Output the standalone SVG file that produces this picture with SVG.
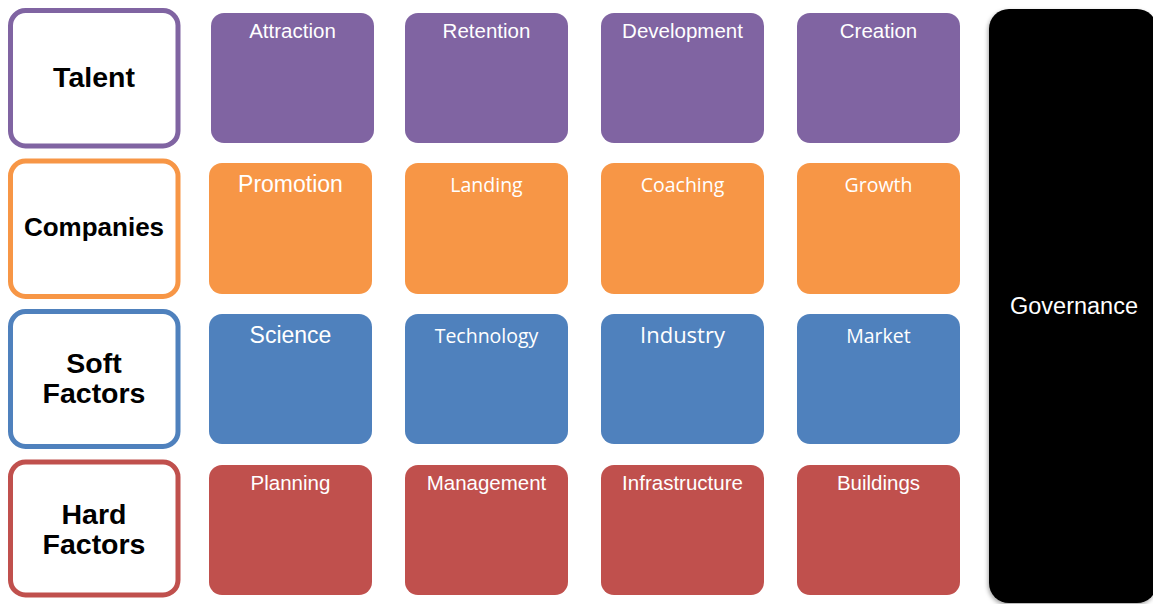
<svg xmlns="http://www.w3.org/2000/svg" width="1153" height="604" viewBox="0 0 1153 604">
<defs>
<style>
.hdr{fill:#fff;stroke-width:5}
.lbl{font-family:"Liberation Sans",Arial,sans-serif;font-weight:bold;fill:#000;text-anchor:middle}
.t{font-family:"Liberation Sans",Arial,sans-serif;fill:#fff;text-anchor:middle;font-size:20.5px}
.big{font-size:23px}
.c{font-family:"Open Sans","Noto Sans",sans-serif;fill:#fff;text-anchor:middle;font-size:19.5px}
.cbig{font-size:22px}
.pu{fill:#8064A2}.or{fill:#F79646}.bl{fill:#4F81BD}.rd{fill:#C0504D}
</style>
<filter id="sh" x="-10%" y="-5%" width="120%" height="110%">
<feDropShadow dx="-1" dy="2" stdDeviation="2" flood-color="#000" flood-opacity="0.35"/>
</filter>
</defs>
<rect width="1153" height="604" fill="#fff"/>
<g id="connectors"/>
<g id="talent"><rect class="hdr" x="10.5" y="10.5" width="167.5" height="135.5" rx="15" stroke="#8064A2"/><text class="lbl" x="94" y="87" font-size="28.5">Talent</text></g>
<g id="companies"><rect class="hdr" x="10.5" y="161" width="167.5" height="135.5" rx="15" stroke="#F79646"/><text class="lbl" x="94" y="236" font-size="26">Companies</text></g>
<g id="soft"><rect class="hdr" x="10.5" y="311.5" width="167.5" height="135" rx="15" stroke="#4F81BD"/><text class="lbl" x="94" y="373" font-size="28.5">Soft</text><text class="lbl" x="94" y="403" font-size="28.5">Factors</text></g>
<g id="hard"><rect class="hdr" x="10.5" y="462" width="167.5" height="133" rx="15" stroke="#C0504D"/><text class="lbl" x="94" y="524" font-size="28.5">Hard</text><text class="lbl" x="94" y="554" font-size="28.5">Factors</text></g>

<g id="attraction"><rect class="pu" x="211" y="13" width="163" height="130" rx="13"/><text class="t" x="292.5" y="38">Attraction</text></g>
<g id="retention"><rect class="pu" x="405" y="13" width="163" height="130" rx="13"/><text class="t" x="486.5" y="38">Retention</text></g>
<g id="development"><rect class="pu" x="601" y="13" width="163" height="130" rx="13"/><text class="t" x="682.5" y="38">Development</text></g>
<g id="creation"><rect class="pu" x="797" y="13" width="163" height="130" rx="13"/><text class="t" x="878.5" y="38">Creation</text></g>

<g id="promotion"><rect class="or" x="209" y="163" width="163" height="131" rx="13"/><text class="t big" x="290.5" y="192">Promotion</text></g>
<g id="landing"><rect class="or" x="405" y="163" width="163" height="131" rx="13"/><text class="c" x="486.5" y="192">Landing</text></g>
<g id="coaching"><rect class="or" x="601" y="163" width="163" height="131" rx="13"/><text class="c" x="682.5" y="192">Coaching</text></g>
<g id="growth"><rect class="or" x="797" y="163" width="163" height="131" rx="13"/><text class="c" x="878.5" y="192">Growth</text></g>

<g id="science"><rect class="bl" x="209" y="314" width="163" height="130" rx="13"/><text class="t big" x="290.5" y="343">Science</text></g>
<g id="technology"><rect class="bl" x="405" y="314" width="163" height="130" rx="13"/><text class="c" x="486.5" y="343">Technology</text></g>
<g id="industry"><rect class="bl" x="601" y="314" width="163" height="130" rx="13"/><text class="c cbig" x="682.5" y="343">Industry</text></g>
<g id="market"><rect class="bl" x="797" y="314" width="163" height="130" rx="13"/><text class="c" x="878.5" y="343">Market</text></g>

<g id="planning"><rect class="rd" x="209" y="465" width="163" height="130" rx="13"/><text class="t" x="290.5" y="490">Planning</text></g>
<g id="management"><rect class="rd" x="405" y="465" width="163" height="130" rx="13"/><text class="t" x="486.5" y="490">Management</text></g>
<g id="infrastructure"><rect class="rd" x="601" y="465" width="163" height="130" rx="13"/><text class="t" x="682.5" y="490">Infrastructure</text></g>
<g id="buildings"><rect class="rd" x="797" y="465" width="163" height="130" rx="13"/><text class="t" x="878.5" y="490">Buildings</text></g>

<g id="governance"><rect x="989" y="9" width="168" height="594" rx="20" fill="#000" filter="url(#sh)"/><text class="t" x="1074" y="314" style="font-size:23.5px">Governance</text></g>
</svg>
